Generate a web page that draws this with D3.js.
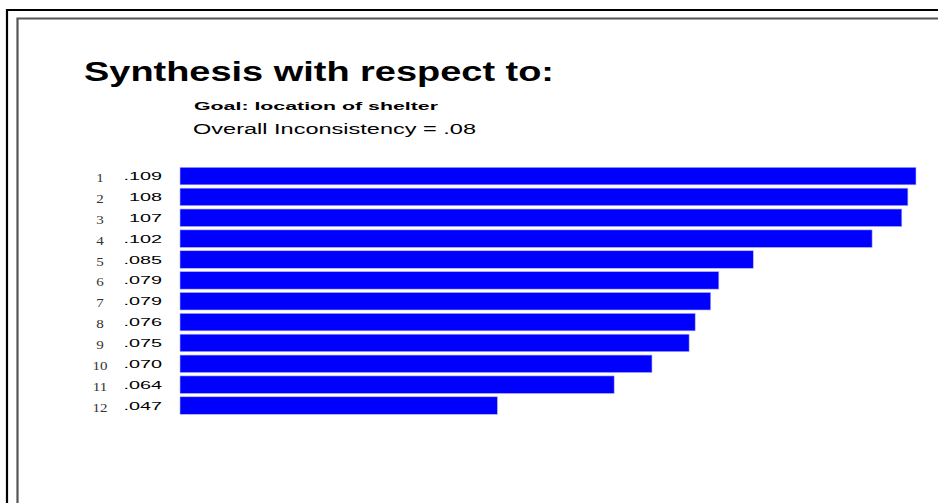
<!DOCTYPE html>
<html lang="en">
	<head>
		<meta charset="utf-8">
		<title>synthesis</title>
		<script type="text/javascript" src="https://d3js.org/d3.v7.min.js"></script>
		<style type="text/css">
            body{margin:0;background:#fff;}
            svg{display:block;}
		</style>
	</head>
	<body>
    <div id="chart1"></div>
		<script type="text/javascript">
            // chart values
            var ranks = ["1","2","3","4","5","6","7","8","9","10","11","12"]
            var valueLabels = [".109","108","107",".102",".085",".079",".079",".076",".075",".070",".064",".047"]
            var values = [0.109,0.1078,0.1069,0.1025,0.0849,0.0798,0.0786,0.0763,0.0754,0.0699,0.0643,0.0470]
            var title = "Synthesis with respect to:"
            var goal = "Goal: location of shelter"
            var inconsistency = "Overall Inconsistency = .08"

            var w = 938
            var h = 503
            var svg = d3.select("#chart1")
                        .append("svg")
                        .attr("width",w)
                        .attr("height",h)

            svg.append("rect").attr("width",w).attr("height",h).attr("fill","#fff")

            // window frames
            svg.append("path")
                .attr("d","M7,"+(h+5)+"V10H"+(w+5))
                .attr("fill","none").attr("stroke","#000").attr("stroke-width",2.2)
            svg.append("path")
                .attr("d","M17.5,"+(h+5)+"V18.5H"+(w+5))
                .attr("fill","none").attr("stroke","#555").attr("stroke-width",2.2)

            // stretched text helper (old screenshot fonts are wide)
            function addText(str,x,y,size,weight,width){
                return svg.append("text")
                    .attr("x",x).attr("y",y)
                    .attr("font-family","Liberation Sans, Arial, sans-serif")
                    .attr("font-size",size)
                    .attr("font-weight",weight)
                    .attr("fill","#000")
                    .attr("textLength",width)
                    .attr("lengthAdjust","spacingAndGlyphs")
                    .text(str)
            }
            addText(title,84,81,28,"bold",470)
            addText(goal,194,110,11,"bold",244)
            addText(inconsistency,193,134,14,"normal",283)

            var xScale = d3.scaleLinear().domain([0,0.109]).range([180,916])
            var yScale = d3.scaleBand().domain(ranks).range([167.3,414.3]).paddingInner(0.16).paddingOuter(0)

            svg.selectAll("rect.bar")
                .data(values)
                .enter()
                .append("rect")
                .attr("class","bar")
                .attr("x",xScale(0))
                .attr("y",function(d,i){ return yScale(ranks[i]) })
                .attr("width",function(d){ return xScale(d)-xScale(0) })
                .attr("height",yScale.bandwidth())
                .attr("fill","#0000ff")
                .attr("stroke","#b4b4ff")
                .attr("stroke-width",0.6)

            // value labels, right edge at 162
            svg.selectAll("text.val")
                .data(valueLabels)
                .enter()
                .append("text")
                .attr("class","val")
                .attr("font-family","Liberation Sans, Arial, sans-serif")
                .attr("font-size",11.5)
                .attr("fill","#000")
                .attr("y",function(d,i){ return yScale(ranks[i])+yScale.bandwidth()/2+4 })
                .text(function(d){ return d })
                .each(function(){
                    var t = d3.select(this)
                    var len = this.getComputedTextLength()*1.72
                    t.attr("x",162-len)
                     .attr("textLength",len)
                     .attr("lengthAdjust","spacingAndGlyphs")
                })

            // rank numbers
            svg.selectAll("text.rank")
                .data(ranks)
                .enter()
                .append("text")
                .attr("class","rank")
                .attr("font-family","Liberation Serif, Times New Roman, serif")
                .attr("font-size",12.5)
                .attr("fill","#333")
                .attr("y",function(d){ return yScale(d)+yScale.bandwidth()/2+6 })
                .text(function(d){ return d })
                .each(function(){
                    var t = d3.select(this)
                    var len = this.getComputedTextLength()*1.2
                    t.attr("x",100-len/2)
                     .attr("textLength",len)
                     .attr("lengthAdjust","spacingAndGlyphs")
                })
        </script>
	</body>
</html>
